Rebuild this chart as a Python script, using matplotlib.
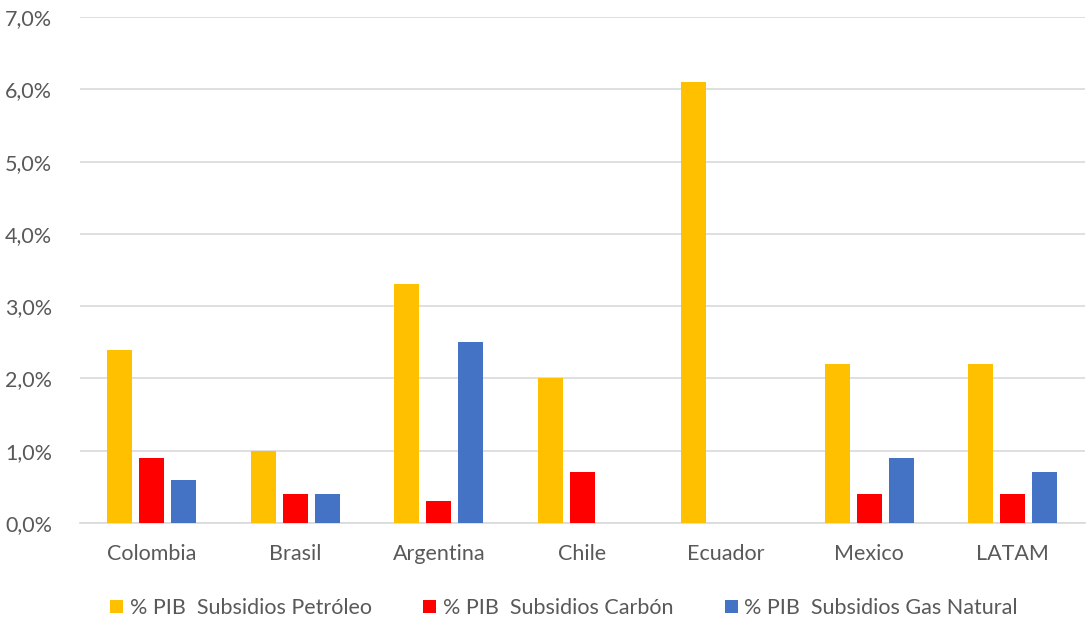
import numpy as np
import matplotlib
matplotlib.use("Agg")
import matplotlib.pyplot as plt
from matplotlib.ticker import FuncFormatter

# data
countries = ["Colombia", "Brasil", "Argentina", "Chile", "Ecuador", "Mexico", "LATAM"]
petroleo = [2.4, 1.0, 3.3, 2.0, 6.1, 2.2, 2.2]
carbon = [0.9, 0.4, 0.3, 0.7, 0.0, 0.4, 0.4]
gas_natural = [0.6, 0.4, 2.5, 0.0, 0.0, 0.9, 0.7]

series = [
    ("% PIB  Subsidios Petróleo", petroleo, "#FFC000"),
    ("% PIB  Subsidios Carbón", carbon, "#FF0000"),
    ("% PIB  Subsidios Gas Natural", gas_natural, "#4472C4"),
]

plt.rcParams['font.family'] = ['Lato', 'DejaVu Sans']
text_color = "#595959"

fig = plt.figure(figsize=(10.89, 6.19), dpi=100)
ax = fig.add_axes([0.0735, 0.155, 0.9225, 0.8175])

x = np.arange(len(countries))
width = 0.174
step = 0.223
for i, (label, vals, color) in enumerate(series):
    ax.bar(x + (i - 1) * step, vals, width, color=color, label=label, zorder=3)

ax.set_xlim(-0.5, len(countries) - 0.5)
ax.set_ylim(0, 7)
ax.set_yticks(np.arange(0, 8, 1))
ax.yaxis.set_major_formatter(FuncFormatter(lambda v, p: f"{v:.1f}%".replace(".", ",")))
ax.set_xticks(x)
ax.set_xticklabels(countries)

ax.grid(axis="y", color="#D9D9D9", linewidth=1.2, zorder=0)
for s in ["top", "right", "left"]:
    ax.spines[s].set_visible(False)
ax.spines["bottom"].set_color("#D9D9D9")
ax.spines["bottom"].set_linewidth(1.2)
ax.tick_params(axis="both", length=0, labelsize=15.5, colors=text_color)
ax.tick_params(axis="x", pad=15)
ax.tick_params(axis="y", pad=20)

leg = fig.legend(loc="lower center", bbox_to_anchor=(0.518, -0.03), ncol=3, frameon=False,
                 fontsize=15.5, handlelength=0.6, handleheight=0.6, handletextpad=0.3,
                 columnspacing=2.4)
for t in leg.get_texts():
    t.set_color(text_color)

fig.savefig("out.png", dpi=100)
